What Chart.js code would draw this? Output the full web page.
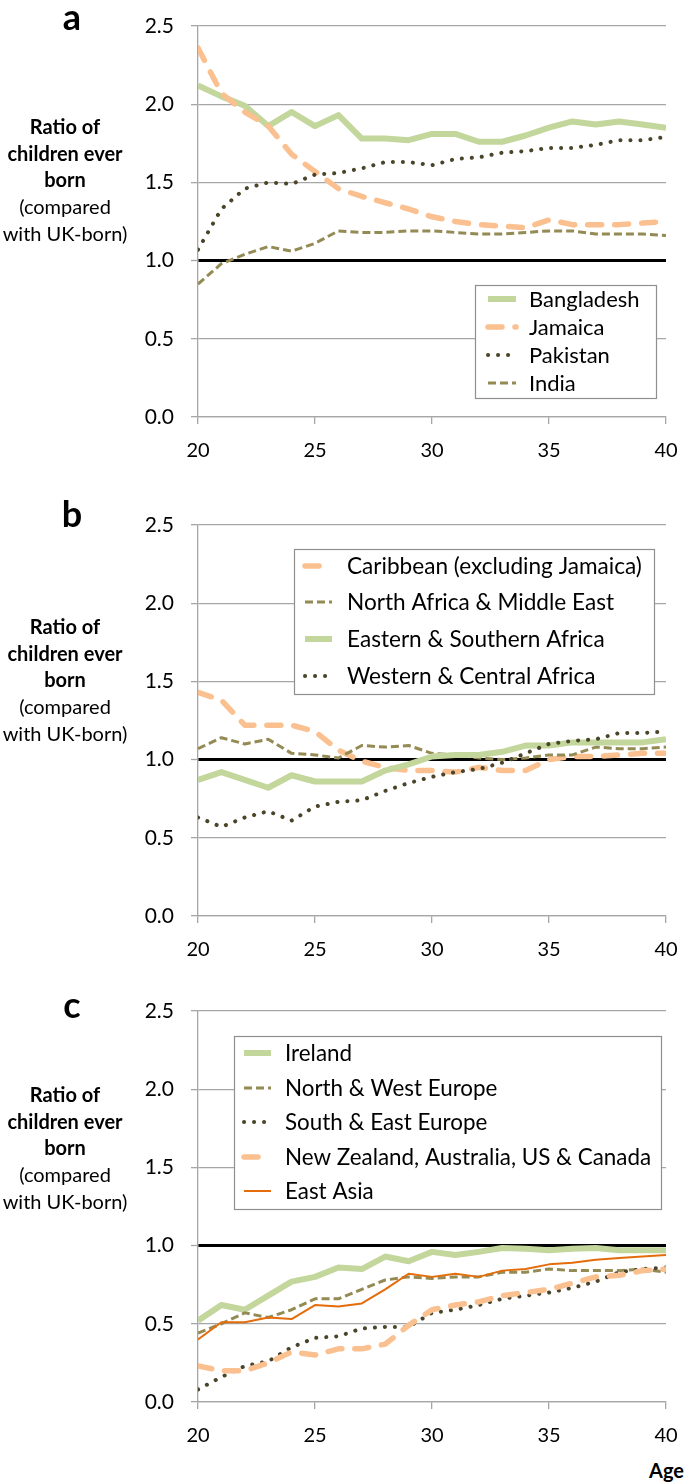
<!DOCTYPE html>
<html>
<head>
<meta charset="utf-8">
<script src="https://cdn.jsdelivr.net/npm/chart.js@4.4.0/dist/chart.umd.min.js"></script>
<style>
  html, body { margin:0; padding:0; background:#fff; }
  body { width:685px; height:1483px; position:relative; overflow:hidden; font-family: Lato, "Open Sans", sans-serif; color:#000; }
  .panel { position:absolute; left:0; width:685px; height:470px; }
  .side { position:absolute; left:0; width:130px; text-align:center; font-size:20px; line-height:26.7px; }
  .side b { font-weight:700; }
  .letter { position:absolute; left:47px; width:50px; text-align:center; font-weight:700; font-size:36px; line-height:36px; }
  .age { position:absolute; right:1px; top:1458px; font-weight:700; font-size:20px; line-height:24px; }
</style>
</head>
<body>
<div class="panel" style="top:0px"><canvas id="ca" width="685" height="470"></canvas></div>
<div class="panel" style="top:499px"><canvas id="cb" width="685" height="470"></canvas></div>
<div class="panel" style="top:985px"><canvas id="cc" width="685" height="470"></canvas></div>

<div class="letter" style="top:-2px">a</div>
<div class="letter" style="top:495px">b</div>
<div class="letter" style="top:986px">c</div>

<div class="side" style="top:113px"><b>Ratio of<br>children ever<br>born</b><br>(compared<br>with UK-born)</div>
<div class="side" style="top:613px"><b>Ratio of<br>children ever<br>born</b><br>(compared<br>with UK-born)</div>
<div class="side" style="top:1081px"><b>Ratio of<br>children ever<br>born</b><br>(compared<br>with UK-born)</div>

<div class="age">Age</div>

<script>
// ---- Data ----
const ages = [20,21,22,23,24,25,26,27,28,29,30,31,32,33,34,35,36,37,38,39,40];
const yTicks = [0.0, 0.5, 1.0, 1.5, 2.0, 2.5];
const xTicks = [20, 25, 30, 35, 40];

// Panel a
const bangladesh = [2.12,2.05,1.99,1.86,1.95,1.86,1.93,1.78,1.78,1.77,1.81,1.81,1.76,1.76,1.80,1.85,1.89,1.87,1.89,1.87,1.85];
const jamaica    = [2.36,2.07,1.95,1.86,1.68,1.57,1.46,1.41,1.37,1.33,1.28,1.25,1.23,1.22,1.21,1.26,1.23,1.23,1.23,1.24,1.25];
const pakistan   = [1.07,1.33,1.46,1.50,1.49,1.55,1.56,1.59,1.63,1.63,1.61,1.65,1.66,1.69,1.70,1.72,1.72,1.74,1.77,1.77,1.79];
const india      = [0.85,0.98,1.04,1.09,1.06,1.11,1.19,1.18,1.18,1.19,1.19,1.18,1.17,1.17,1.18,1.19,1.19,1.17,1.17,1.17,1.16];

// Panel b
const caribbean  = [1.43,1.38,1.22,1.22,1.22,1.18,1.06,0.99,0.95,0.93,0.93,0.92,0.95,0.93,0.93,1.00,1.02,1.02,1.03,1.04,1.04];
const northAfricaME = [1.07,1.14,1.10,1.13,1.04,1.03,1.01,1.09,1.08,1.09,1.04,1.03,1.01,1.00,1.01,1.03,1.03,1.08,1.07,1.07,1.08];
const eastSouthAfrica = [0.87,0.92,0.87,0.82,0.90,0.86,0.86,0.86,0.93,0.97,1.02,1.03,1.03,1.05,1.09,1.09,1.11,1.11,1.11,1.11,1.13];
const westCentralAfrica = [0.63,0.57,0.63,0.67,0.61,0.70,0.73,0.74,0.80,0.85,0.89,0.92,0.94,0.98,1.04,1.10,1.12,1.13,1.17,1.17,1.18];

// Panel c
const ireland    = [0.52,0.62,0.59,0.68,0.77,0.80,0.86,0.85,0.93,0.90,0.96,0.94,0.96,0.985,0.98,0.97,0.98,0.985,0.97,0.97,0.97];
const northWestEurope = [0.44,0.50,0.57,0.54,0.59,0.66,0.66,0.72,0.78,0.80,0.79,0.80,0.80,0.83,0.83,0.85,0.84,0.84,0.84,0.85,0.83];
const southEastEurope = [0.08,0.16,0.23,0.26,0.35,0.41,0.42,0.47,0.48,0.48,0.57,0.59,0.62,0.66,0.68,0.70,0.73,0.77,0.83,0.85,0.86];
const nzAusUsCan = [0.23,0.20,0.20,0.25,0.32,0.30,0.34,0.34,0.37,0.49,0.59,0.62,0.64,0.68,0.70,0.72,0.76,0.80,0.81,0.84,0.85];
const eastAsia   = [0.40,0.51,0.51,0.54,0.53,0.62,0.61,0.63,0.72,0.82,0.80,0.82,0.80,0.84,0.85,0.88,0.89,0.91,0.92,0.93,0.94];

// ---- Styles ----
const GREEN = '#c3d69b', PEACH = '#fac090', DARK = '#4a452a', OLIVE = '#948a54', ORANGE = '#e46c0a';
const GRID = '#a6a6a6';
const FONT = 'Lato, "Open Sans", sans-serif';

const styles = {
  green: { borderColor: GREEN, borderWidth: 6, borderDash: [], borderCapStyle: 'butt', borderJoinStyle: 'round' },
  peach: { borderColor: PEACH, borderWidth: 5.5, borderDash: [14, 13], borderCapStyle: 'round', borderJoinStyle: 'round' },
  dots:  { borderColor: DARK, borderWidth: 4, borderDash: [0.1, 9.9], borderCapStyle: 'round', borderJoinStyle: 'round' },
  olive: { borderColor: OLIVE, borderWidth: 3, borderDash: [8, 4], borderCapStyle: 'butt', borderJoinStyle: 'round' },
  orange:{ borderColor: ORANGE, borderWidth: 2, borderDash: [], borderCapStyle: 'butt', borderJoinStyle: 'round' }
};

function series(label, values, style, i) {
  return Object.assign({
    label,
    data: ages.map((a, k) => ({ x: a, y: values[k] })),
    fill: false, tension: 0, pointRadius: 0, pointHoverRadius: 0,
    order: -i
  }, styles[style]);
}

const boxLegend = {
  id: 'boxLegend',
  afterDatasetsDraw(chart, args, o) {
    const ctx = chart.ctx;
    ctx.save();
    ctx.fillStyle = '#fff';
    ctx.fillRect(o.x, o.y, o.w, o.h);
    ctx.strokeStyle = '#8f8f8f';
    ctx.lineWidth = 1.2;
    ctx.strokeRect(o.x + 0.5, o.y + 0.5, o.w, o.h);
    chart.data.datasets.forEach((ds, i) => {
      const y = o.rows[i];
      ctx.beginPath();
      ctx.setLineDash(ds.borderDash || []);
      ctx.lineCap = ds.borderCapStyle || 'butt';
      ctx.strokeStyle = ds.borderColor;
      ctx.lineWidth = ds.borderWidth;
      ctx.moveTo(o.s0, y);
      ctx.lineTo(o.s1, y);
      ctx.stroke();
      ctx.setLineDash([]);
      ctx.fillStyle = '#000';
      ctx.font = o.font;
      ctx.textBaseline = 'middle';
      ctx.textAlign = 'left';
      ctx.fillText(ds.label, o.tx, y + 1);
    });
    ctx.restore();
  }
};

function makeChart(id, datasets, legend) {
  return new Chart(document.getElementById(id), {
    type: 'line',
    data: { datasets },
    plugins: [boxLegend],
    options: {
      responsive: false, animation: false, events: [],
      layout: { padding: { left: 118, right: 19, top: 26, bottom: 0 } },
      plugins: { legend: { display: false }, tooltip: { enabled: false }, boxLegend: legend },
      scales: {
        x: {
          type: 'linear', min: 20, max: 40,
          afterBuildTicks: s => { s.ticks = xTicks.map(v => ({ value: v })); },
          ticks: { padding: 15, color: '#000', font: { family: FONT, size: 20 }, maxRotation: 0, autoSkip: false },
          grid: { drawOnChartArea: false, drawTicks: true, tickLength: 7, color: GRID, lineWidth: 1.3 },
          border: { color: GRID, width: 1.3 },
          afterFit: s => { s.height = 53; s.paddingLeft = 0; s.paddingRight = 0; }
        },
        y: {
          min: 0, max: 2.5,
          afterBuildTicks: s => { s.ticks = yTicks.map(v => ({ value: v })); },
          ticks: { padding: 17, color: '#000', font: { family: FONT, size: 21 }, callback: v => Number(v).toFixed(1) },
          grid: {
            color: c => (c.tick && c.tick.value === 1) ? '#000' : GRID,
            lineWidth: c => (c.tick && c.tick.value === 1) ? 3 : 1.3,
            tickColor: GRID, tickWidth: 1.3, tickLength: 7
          },
          border: { color: GRID, width: 1.3 },
          afterFit: s => { s.width = 80; s.paddingTop = 0; s.paddingBottom = 0; }
        }
      }
    }
  });
}

makeChart('ca', [
  series('Bangladesh', bangladesh, 'green', 0),
  series('Jamaica', jamaica, 'peach', 1),
  series('Pakistan', pakistan, 'dots', 2),
  series('India', india, 'olive', 3)
], { x: 475, y: 285, w: 181, h: 113, rows: [299, 327, 355, 383], s0: 488, s1: 516, tx: 529, font: '22px ' + FONT });

makeChart('cb', [
  series('Caribbean (excluding Jamaica)', caribbean, 'peach', 0),
  series('North Africa & Middle East', northAfricaME, 'olive', 1),
  series('Eastern & Southern Africa', eastSouthAfrica, 'green', 2),
  series('Western & Central Africa', westCentralAfrica, 'dots', 3)
], { x: 294, y: 50, w: 360, h: 145, rows: [67, 103, 140, 177], s0: 305, s1: 332, tx: 347, font: '22.6px ' + FONT });

makeChart('cc', [
  series('Ireland', ireland, 'green', 0),
  series('North & West Europe', northWestEurope, 'olive', 1),
  series('South & East Europe', southEastEurope, 'dots', 2),
  series('New Zealand, Australia, US & Canada', nzAusUsCan, 'peach', 3),
  series('East Asia', eastAsia, 'orange', 4)
], { x: 234, y: 51, w: 427, h: 173, rows: [68, 103, 137, 172, 206], s0: 244, s1: 271, tx: 285, font: '22.4px ' + FONT });
</script>
</body>
</html>
